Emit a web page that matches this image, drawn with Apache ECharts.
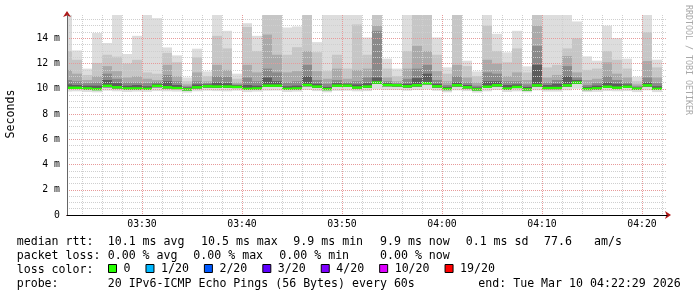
<!DOCTYPE html>
<html><head><meta charset="utf-8">
<script src="https://cdn.jsdelivr.net/npm/echarts@6/dist/echarts.min.js"></script>
<style>html,body{margin:0;padding:0;background:#fff}#c{width:697px;height:297px}</style>
</head><body><div id="c"></div>
<script>
// minute (after 03:00) at which each one-minute bar starts
const barStart = [22,23,24,25,26,27,28,29,30,31,32,33,34,35,36,37,38,39,40,41,42,43,44,45,46,47,48,49,50,51,
                  52,53,54,55,56,57,58,59,60,61,62,63,64,65,66,67,68,69,70,71,72,73,74,75,76,77,78,79,80,81];
// median rtt (ms)
const medianRtt = [10.08,10.08,10.03,9.98,10.24,10.12,10.03,10.03,10.0,10.24,10.12,10.06,9.96,10.12,10.2,
                   10.18,10.18,10.15,10.0,10.03,10.25,10.25,10.0,10.03,10.3,10.18,9.98,10.25,10.25,10.1,
                   10.18,10.5,10.3,10.28,10.2,10.28,10.45,10.2,9.99,10.28,10.12,9.96,10.17,10.28,10.02,
                   10.15,9.96,10.27,10.06,10.06,10.27,10.5,9.99,10.04,10.17,10.09,10.17,10.01,10.27,10.0];
// smoke: ping distribution per bar (ms)
const smokeMax = [16,13.04,11.6,14.42,13.63,16,12.76,14.2,16,15.6,13.28,12.65,10.9,13.18,11.38,
                  16,14.6,11.2,15.2,14.2,16,16,14.86,14.94,16,13.7,16,16,16,16,
                  14.07,16,12.39,11.6,16,16,16,14.07,11.7,16,12.23,11.38,16,14.36,12.89,
                  14.6,11.78,16,16,16,16,15.34,12.57,12.23,15.0,14.02,12.39,10.94,16,12.31];
const smokeQ85 = [13.0,12.3,11.1,12.05,12.7,12.55,12.0,12.3,11.3,11.2,12.85,12.1,10.6,12.5,11.0,
                  14.2,13.2,10.8,14.9,13.0,16,16,12.7,13.3,16,12.9,11.4,12.7,11.6,15.1,
                  12.7,16,11.6,11.0,13.0,16,16,12.7,11.2,16,11.8,11.0,15.0,13.0,12.1,
                  13.2,11.3,16,11.7,11.9,13.2,14.0,11.5,11.6,13.0,12.3,11.6,10.6,14.5,11.7];
const smokeQ70 = [11.5,11.2,10.7,11.0,11.8,11.4,10.9,11.0,10.8,10.7,11.9,11.0,10.35,11.3,10.6,
                  11.9,11.5,10.5,11.9,11.3,14.3,12.7,11.3,11.4,13.0,11.4,10.8,11.6,10.8,11.5,
                  11.6,15.0,10.9,10.6,11.6,13.4,13.0,11.4,10.6,11.9,10.9,10.5,12.3,12.0,11.0,
                  11.3,10.7,15.0,10.9,11.1,12.6,11.3,10.7,10.8,12.1,11.2,10.9,10.35,12.2,10.9];
const smokeQ60 = [10.7,10.6,10.45,10.5,11.2,10.8,10.5,10.5,10.45,10.55,11.1,10.6,10.2,10.6,10.45,
                  11.0,10.95,10.35,10.9,10.6,11.6,11.3,10.5,10.6,11.9,10.7,10.4,10.7,10.5,10.6,
                  10.9,14.6,10.6,10.45,10.8,11.6,11.9,10.7,10.3,11.0,10.5,10.25,11.3,11.2,10.6,
                  10.6,10.35,13.4,10.5,10.7,11.8,10.9,10.3,10.45,11.0,10.7,10.5,10.2,10.9,10.45];
const smokeQ55 = [10.35,10.3,10.25,10.25,10.7,10.45,10.25,10.3,10.2,10.4,10.6,10.3,10.1,10.35,10.35,
                  10.5,10.45,10.28,10.3,10.25,10.9,10.6,10.2,10.25,11.0,10.4,10.15,10.45,10.4,10.35,
                  10.45,10.9,10.45,10.38,10.4,10.85,11.2,10.4,10.15,10.5,10.3,10.1,10.6,10.6,10.3,
                  10.35,10.15,11.9,10.3,10.4,11.0,10.7,10.15,10.25,10.5,10.4,10.35,10.1,10.5,10.2];
const smokeLow = [10.0,10.0,9.95,9.9,10.12,10.03,9.95,9.95,9.92,10.12,10.03,9.98,9.88,10.03,10.1,
                  10.08,10.08,10.06,9.92,9.95,10.15,10.15,9.92,9.95,10.2,10.08,9.9,10.15,10.15,10.02,
                  10.08,10.38,10.2,10.18,10.1,10.18,10.35,10.1,9.9,10.18,10.03,9.88,10.08,10.18,9.93,
                  10.06,9.88,10.17,9.97,9.97,10.17,10.38,9.9,9.95,10.08,10.0,10.08,9.92,10.17,9.92];
const smokeMin = [9.78,9.8,9.75,9.72,9.85,9.8,9.75,9.78,9.76,9.82,9.8,9.78,9.7,9.8,9.85,
                  9.82,9.8,9.85,9.74,9.78,9.85,9.86,9.75,9.78,9.9,9.82,9.72,9.84,9.85,9.8,
                  9.82,9.95,9.9,9.9,9.85,9.9,9.95,9.85,9.72,9.88,9.82,9.7,9.8,9.9,9.75,
                  9.8,9.72,9.88,9.78,9.78,9.88,10.0,9.74,9.76,9.82,9.8,9.82,9.74,9.88,9.74];
// axis tick labels
const timeTicks = [30,40,50,60,70,80];
const timeLabels = ['03:30','03:40','03:50','04:00','04:10','04:20'];
const yTicks = [0,2,4,6,8,10,12,14];
const yLabels = ['0','2 m','4 m','6 m','8 m','10 m','12 m','14 m'];
// loss colour legend
const lossNames = ['0','1/20','2/20','3/20','4/20','10/20','19/20'];
const lossColors = ['#26ff00','#00b8ff','#0059ff','#5e00ff','#7e00ff','#dd00ff','#ff0000'];
// statistics text
const rttStats = ['10.1 ms avg','10.5 ms max','9.9 ms min','9.9 ms now','0.1 ms sd','77.6','am/s'];
const lossStats = ['0.00 % avg','0.00 % max','0.00 % min','0.00 % now'];
const probeText = '20 IPv6-ICMP Echo Pings (56 Bytes) every 60s';
const endText = 'end: Tue Mar 10 04:22:29 2026';

const MONO = '"DejaVu Sans Mono", "Liberation Mono", monospace';
const layerColors = ['#dddddd','#c6c6c6','#aaaaaa','#8a8a8a','#5c5c5c'];

const chart = echarts.init(document.getElementById('c'), null, {renderer:'canvas'});

function clip(r, cs) {
  return echarts.graphic.clipRectByRect(r, {x: cs.x, y: cs.y, width: cs.width, height: cs.height});
}
function renderSmoke(params, api) {
  const cs = params.coordSys;
  const m = api.value(0);
  const mn = api.value(1), low = api.value(2);
  const tops = [api.value(3), api.value(4), api.value(5), api.value(6), api.value(7)];
  const children = [];
  for (let k = 0; k < tops.length; k++) {
    const bottom = k === 0 ? mn : low;
    const p0 = api.coord([m, tops[k]]);
    const p1 = api.coord([m + 1, bottom]);
    const r = clip({x: p0[0], y: p0[1], width: p1[0] - p0[0], height: p1[1] - p0[1]}, cs);
    if (r) children.push({type: 'rect', shape: r, style: {fill: layerColors[k]}});
  }
  return {type: 'group', children};
}
function renderMedian(params, api) {
  const cs = params.coordSys;
  const m = api.value(0), v = api.value(1);
  const p0 = api.coord([m, v]);
  const p1 = api.coord([m + 1, v]);
  const r = clip({x: p0[0], y: p0[1] - 1.2, width: p1[0] - p0[0], height: 2.4}, cs);
  if (!r) return null;
  return {type: 'rect', shape: r, style: {fill: api.visual('color')}};
}

const near = (a, b) => Math.abs(a - b) < 1e-6;
const xColors = [];
for (let i = 0; i < 20; i++) xColors.push(i === 15 ? '#e79a9a' : (i % 4 === 3 ? '#cfcfcf' : 'rgba(0,0,0,0)'));
const yColors = ['#e79a9a', '#cfcfcf', '#cfcfcf', '#cfcfcf'];

const series = [
  {
    name: 'smoke', type: 'custom', renderItem: renderSmoke, clip: true,
    encode: {x: 0, y: 3},
    data: barStart.map((m, i) => [m, smokeMin[i], smokeLow[i], smokeMax[i], smokeQ85[i], smokeQ70[i], smokeQ60[i], smokeQ55[i]]),
    silent: true, z: 2
  },
  {
    name: lossNames[0], type: 'custom', renderItem: renderMedian, clip: true,
    itemStyle: {color: lossColors[0]},
    encode: {x: 0, y: 1},
    data: barStart.map((m, i) => [m, medianRtt[i]]),
    silent: true, z: 3
  }
];
for (let i = 1; i < lossNames.length; i++) {
  series.push({name: lossNames[i], type: 'line', data: [], itemStyle: {color: lossColors[i]}, lineStyle: {color: lossColors[i]}});
}

const txt = (x, y, t, extra) => Object.assign({
  type: 'text', x, y, silent: true,
  style: {text: t, font: '11.6px ' + MONO, fill: '#000', textAlign: 'left', textVerticalAlign: 'middle'}
}, extra || {});

const rttX = [107.7, 201, 293.3, 380, 465.7, 544, 594];
const lossX = [107.7, 193.3, 279.3, 380];
const graphic = [
  txt(16.7, 241.5, 'median rtt:'),
  txt(16.7, 255.5, 'packet loss:'),
  txt(16.7, 269.5, 'loss color:'),
  txt(16.7, 283.5, 'probe:'),
  txt(107.7, 283.5, probeText),
  txt(478.3, 283.5, endText),
  {type: 'text', x: 10.5, y: 114, rotation: Math.PI / 2, silent: true,
   style: {text: 'Seconds', font: '11.6px ' + MONO, fill: '#000', textAlign: 'center', textVerticalAlign: 'middle'}},
  {type: 'text', x: 688, y: 60, rotation: -Math.PI / 2, silent: true,
   style: {text: 'RRDTOOL / TOBI OETIKER', font: '8.3px ' + MONO, fill: '#a8a8a8', textAlign: 'center', textVerticalAlign: 'middle'}}
];
rttStats.forEach((s, i) => graphic.push(txt(rttX[i], 241.5, s)));
lossStats.forEach((s, i) => graphic.push(txt(lossX[i], 255.5, s)));

const option = {
  animation: false,
  backgroundColor: '#fff',
  grid: {left: 67, top: 15, width: 600, height: 200},
  legend: {
    left: 108, top: 262.5, padding: 0, itemGap: 15, itemWidth: 8, itemHeight: 8,
    icon: 'rect', selectedMode: false, data: lossNames,
    itemStyle: {borderColor: '#000', borderWidth: 1},
    textStyle: {fontFamily: MONO, fontSize: 11.6, color: '#000', padding: [0, 0, 0, 2]}
  },
  xAxis: [
    {
      type: 'value', min: 22.5, max: 82.5, interval: 0.5, z: 5,
      axisLine: {show: true, lineStyle: {color: '#b01818', width: 1}, symbol: ['none', 'arrow'], symbolSize: [6, 6], symbolOffset: [0, 4]},
      axisTick: {show: false},
      axisLabel: {
        margin: 4, fontFamily: MONO, fontSize: 9.8, color: '#000',
        formatter: v => { const i = timeTicks.findIndex(t => near(t, v)); return i >= 0 ? timeLabels[i] : ''; }
      },
      splitLine: {show: true, lineStyle: {color: xColors, type: [1, 1], width: 1}}
    },
    {
      type: 'value', min: 22.5, max: 82.5, position: 'bottom', offset: 0, z: 6,
      axisLine: {show: true, lineStyle: {color: '#000', width: 1}},
      axisTick: {show: false}, axisLabel: {show: false}, splitLine: {show: false}
    }
  ],
  yAxis: [
    {
      type: 'value', min: 0, max: 15.85, interval: 0.5, z: 5,
      axisLine: {show: true, lineStyle: {color: '#b01818', width: 1}, symbol: ['none', 'arrow'], symbolSize: [6, 6], symbolOffset: [0, 4]},
      axisTick: {show: false},
      axisLabel: {
        margin: 7, fontFamily: MONO, fontSize: 9.8, color: '#000',
        formatter: v => { const i = yTicks.findIndex(t => near(t, v)); return i >= 0 ? yLabels[i] : ''; }
      },
      splitLine: {show: true, showMaxLine: false, lineStyle: {color: yColors, type: [1, 1], width: 1}}
    },
    {
      type: 'value', min: 0, max: 15.85, position: 'left', offset: 0, z: 6,
      axisLine: {show: true, lineStyle: {color: '#666', width: 1}},
      axisTick: {show: false}, axisLabel: {show: false}, splitLine: {show: false}
    }
  ],
  graphic: graphic,
  series: series
};
chart.setOption(option);
</script>
</body></html>
